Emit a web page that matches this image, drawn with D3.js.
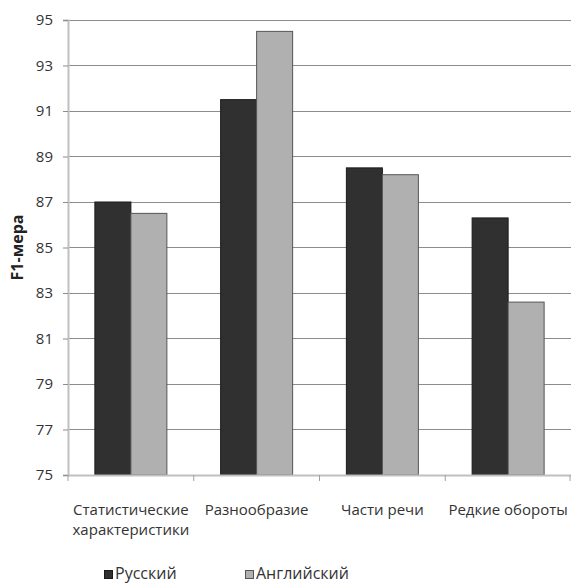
<!DOCTYPE html>
<html>
<head>
<meta charset="utf-8">
<script src="https://cdn.jsdelivr.net/npm/d3@7"></script>
<style>
  html, body { margin: 0; padding: 0; background: #fff; }
  svg { display: block; font-family: "Open Sans", "Liberation Sans", sans-serif; }
</style>
</head>
<body>
<svg id="chart" width="571" height="583"></svg>
<script>
// F1 scores per feature group, Russian vs English
const categories = [["Статистические", "характеристики"], ["Разнообразие"], ["Части речи"], ["Редкие обороты"]];
const seriesNames = ["Русский", "Английский"];
const russian = [87.0, 91.5, 88.5, 86.3];
const english = [86.5, 94.5, 88.2, 82.6];
const yTicks = [75, 77, 79, 81, 83, 85, 87, 89, 91, 93, 95];
const seriesColors = ["#303030", "#b0b0b0"];

const svg = d3.select("#chart");
const plotLeft = 68, plotRight = 571, plotTop = 20, plotBottom = 475;

const catKeys = categories.map(c => c.join(" "));
const x = d3.scaleBand().domain(catKeys).range([plotLeft, plotRight]).paddingInner(0).paddingOuter(0);
const y = d3.scaleLinear().domain([75, 95]).range([plotBottom, plotTop]);
const xs = d3.scaleBand().domain(seriesNames).range([0, 72]);

// horizontal gridlines
svg.append("g").selectAll("line").data(yTicks.slice(1)).join("line")
  .attr("x1", plotLeft).attr("x2", plotRight)
  .attr("y1", d => y(d)).attr("y2", d => y(d))
  .attr("stroke", "#8c8c8c").attr("stroke-width", 1).attr("shape-rendering", "crispEdges");

// bars
const rows = catKeys.map((k, i) => ({ key: k, vals: [russian[i], english[i]] }));
const groups = svg.append("g").selectAll("g").data(rows).join("g")
  .attr("transform", d => `translate(${x(d.key) + x.bandwidth() / 2 - 36},0)`);
groups.selectAll("rect").data(d => d.vals.map((v, j) => ({ v, s: seriesNames[j], j }))).join("rect")
  .attr("x", d => xs(d.s))
  .attr("y", d => y(d.v))
  .attr("width", xs.bandwidth())
  .attr("height", d => y(75) - y(d.v))
  .attr("fill", d => seriesColors[d.j])
  .attr("stroke", d => d.j === 0 ? "#1a1a1a" : "#555")
  .attr("stroke-width", 1);

// y axis
const yAxis = svg.append("g").attr("transform", `translate(${plotLeft},0)`)
  .call(d3.axisLeft(y).tickValues(yTicks).tickSize(5).tickPadding(10).tickFormat(d3.format("d")));
yAxis.select(".domain").attr("stroke", "#c0c0c0").attr("stroke-width", 2);
yAxis.selectAll(".tick line").attr("stroke", "#8c8c8c");
yAxis.selectAll(".tick text").attr("fill", "#333").attr("font-size", 15).attr("font-family", "Open Sans, sans-serif");

// x axis
const xAxis = svg.append("g").attr("transform", `translate(0,${plotBottom})`)
  .call(d3.axisBottom(x).tickSize(0).tickFormat(""));
xAxis.select(".domain").attr("stroke", "#c0c0c0").attr("stroke-width", 2);
xAxis.selectAll(".tick").remove();
// category boundary ticks
svg.append("g").selectAll("line").data(catKeys.map(k => x(k)).concat([plotRight - 1])).join("line")
  .attr("x1", d => d).attr("x2", d => d)
  .attr("y1", plotBottom).attr("y2", plotBottom + 6)
  .attr("stroke", "#a0a0a0");

// category labels
const lab = svg.append("g").selectAll("text").data(categories).join("text")
  .attr("x", (d, i) => x(catKeys[i]) + x.bandwidth() / 2)
  .attr("y", 515)
  .attr("text-anchor", "middle")
  .attr("font-size", 15)
  .attr("fill", "#333");
lab.selectAll("tspan").data(d => d).join("tspan")
  .attr("x", function () { return this.parentNode.getAttribute("x"); })
  .attr("dy", (d, i) => i === 0 ? 0 : 20)
  .text(d => d);

// y axis title
svg.append("text")
  .attr("transform", `translate(23,${(plotTop + plotBottom) / 2}) rotate(-90)`)
  .attr("text-anchor", "middle")
  .attr("font-size", 16)
  .attr("font-weight", "bold")
  .attr("fill", "#222")
  .text("F1-мера");

// legend
const legendX = [104, 245];
const lg = svg.append("g").selectAll("g").data(seriesNames).join("g")
  .attr("transform", (d, i) => `translate(${legendX[i]},570)`);
lg.append("rect").attr("x", 0.5).attr("y", 0.5).attr("width", 8).attr("height", 8)
  .attr("fill", (d, i) => seriesColors[i])
  .attr("stroke", (d, i) => i === 0 ? "#1a1a1a" : "#555");
lg.append("text").attr("x", 11).attr("y", 9).attr("font-size", 16).attr("fill", "#333").text(d => d);
</script>
</body>
</html>
